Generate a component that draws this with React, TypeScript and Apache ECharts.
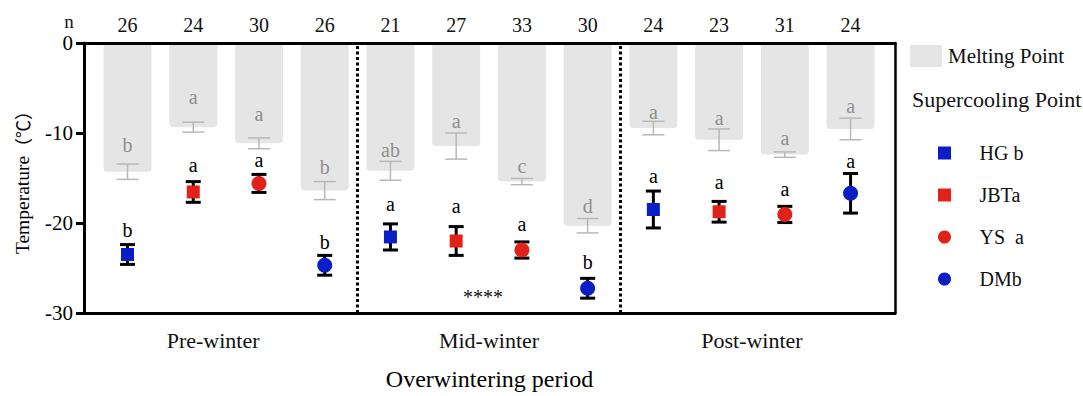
import React, { useEffect, useRef } from 'react';
import * as echarts from 'echarts';

// ---- data ----
const sampleSizes = [26, 24, 30, 26, 21, 27, 33, 30, 24, 23, 31, 24];
const periods = ['Pre-winter', 'Mid-winter', 'Post-winter'];
const species = ['HG', 'JBT', 'YS', 'DM'];
const speciesLegendText = ['HG b', 'JBTa', 'YS  a', 'DMb'];

// melting point (category order: period x species)
const meltMean = [-14.3, -9.35, -11.15, -16.4, -14.2, -11.45, -15.4, -20.3, -9.45, -10.75, -12.4, -9.55];
const meltSd = [0.85, 0.55, 0.6, 1.0, 1.05, 1.45, 0.35, 0.8, 0.75, 1.2, 0.3, 1.2];
const meltLetters = ['b', 'a', 'a', 'b', 'ab', 'a', 'c', 'd', 'a', 'a', 'a', 'a'];

// supercooling point per species (pre, mid, post)
const hgMean = [-23.5, -21.55, -18.5];
const hgSd = [1.1, 1.45, 2.05];
const jbtMean = [-16.55, -22.0, -18.75];
const jbtSd = [1.15, 1.6, 1.15];
const ysMean = [-15.6, -23.0, -19.05];
const ysSd = [1.0, 0.9, 0.9];
const dmMean = [-24.7, -27.25, -16.7];
const dmSd = [1.1, 1.1, 2.2];
const scpLetters = ['b', 'a', 'a', 'b', 'a', 'a', 'a', 'b', 'a', 'a', 'a', 'a'];

const yTicks = [0, -10, -20, -30];
const significance = '****';

// ---- styles ----
const SERIF = "'Liberation Serif', 'Times New Roman', serif";
const CJK = "'Noto Sans CJK SC', 'Liberation Serif', serif";
const BLUE = '#0a1dc6';
const RED = '#e0221b';

export default function App() {
  const ref = useRef<HTMLDivElement>(null);

  useEffect(() => {
    const chart = echarts.init(ref.current!, null, { renderer: 'svg' });

    const scpMeans = [hgMean, jbtMean, ysMean, dmMean];
    const scpSds = [hgSd, jbtSd, ysSd, dmSd];
    const symbols = ['rect', 'rect', 'circle', 'circle'];
    const legendIcons = ['path://M0,0H10V10H0Z', 'path://M0,0H10V10H0Z', 'circle', 'circle'];
    const sizes = [13, 13, 15, 15];
    const colors = [BLUE, RED, RED, BLUE];

    const meltGap = [19, 25, 24, 15, 11, 12, 12, 13, 9, 11, 14, 12];
    const scpGap = [15, 17, 14, 13, 20, 21, 18, 16, 15, 19, 17, 13];
    const groupShift = [-13, 0, 0];

    const scpErr: number[][] = [];
    for (let i = 0; i < 12; i++) {
      const g = Math.floor(i / 4);
      const s = i % 4;
      const m = scpMeans[s][g];
      const sd = scpSds[s][g];
      scpErr.push([i, m - sd, m + sd]);
    }
    const meltErr = meltMean.map((m, i) => [i, m - meltSd[i], m + meltSd[i]]);

    const textStyle = (text: string, fill: string, fontSize: number) => ({
      text,
      fill,
      fontSize,
      fontFamily: SERIF,
      align: 'center',
      verticalAlign: 'middle',
      textAlign: 'center',
      textVerticalAlign: 'middle',
    });

    const errRender = (color: string, lw: number, half: number, letters: string[], gaps: number[], textColor: string) =>
      (params: any, api: any) => {
        const x = api.value(0);
        const lo = api.value(1);
        const hi = api.value(2);
        const t = api.coord([x, hi]);
        const b = api.coord([x, lo]);
        const ls = { stroke: color, lineWidth: lw };
        return {
          type: 'group',
          children: [
            { type: 'line', shape: { x1: t[0], y1: t[1], x2: b[0], y2: b[1] }, style: ls },
            { type: 'line', shape: { x1: t[0] - half, y1: t[1], x2: t[0] + half, y2: t[1] }, style: ls },
            { type: 'line', shape: { x1: b[0] - half, y1: b[1], x2: b[0] + half, y2: b[1] }, style: ls },
            {
              type: 'text',
              x: t[0],
              y: t[1] - gaps[params.dataIndex],
              style: textStyle(letters[params.dataIndex], textColor, 20),
            },
          ],
        };
      };

    const scatterSeries = species.map((name, s) => ({
      name,
      type: 'scatter',
      symbol: symbols[s],
      symbolSize: sizes[s],
      itemStyle: { color: colors[s], opacity: 1 },
      z: 5,
      data: periods.map((_, g) => [g * 4 + s, scpMeans[s][g]]),
    }));

    const option: any = {
      animation: false,
      grid: { left: 84, right: 188, top: 43, bottom: 80 },
      xAxis: [
        {
          type: 'value',
          min: -0.662,
          max: 11.676,
          position: 'bottom',
          z: 10,
          axisLine: { show: true, onZero: false, lineStyle: { color: '#000', width: 3 } },
          axisTick: { show: false },
          axisLabel: { show: false },
          splitLine: { show: false },
          name: 'Overwintering period',
          nameLocation: 'middle',
          nameGap: 54,
          nameTextStyle: { fontFamily: SERIF, fontSize: 24, color: '#000' },
        },
        {
          type: 'value',
          min: -0.662,
          max: 11.676,
          position: 'top',
          z: 10,
          axisLine: { show: true, onZero: false, lineStyle: { color: '#000', width: 3 } },
          axisTick: { show: false },
          axisLabel: { show: false },
          splitLine: { show: false },
        },
      ],
      yAxis: [
        {
          type: 'value',
          min: yTicks[yTicks.length - 1],
          max: yTicks[0],
          interval: 10,
          position: 'left',
          z: 10,
          axisLine: { show: true, onZero: false, lineStyle: { color: '#000', width: 3 } },
          axisTick: { show: true, length: 8, lineStyle: { color: '#000', width: 3 } },
          axisLabel: { fontFamily: SERIF, fontSize: 21, color: '#000', margin: 11, lineHeight: 16 },
          splitLine: { show: false },
          name: '{t|Temperature}{c|（℃）}',
          nameLocation: 'middle',
          nameGap: 52,
          nameTextStyle: {
            fontFamily: SERIF,
            fontSize: 19.5,
            color: '#000',
            rich: {
              t: { fontFamily: SERIF, fontSize: 19.5, color: '#000' },
              c: { fontFamily: CJK, fontSize: 18, color: '#000' },
            },
          },
        },
        {
          type: 'value',
          min: yTicks[yTicks.length - 1],
          max: yTicks[0],
          interval: 10,
          position: 'right',
          z: 10,
          axisLine: { show: true, onZero: false, lineStyle: { color: '#000', width: 2.5 } },
          axisTick: { show: false },
          axisLabel: { show: false },
          splitLine: { show: false },
        },
      ],
      legend: [
        {
          data: [{ name: 'Melting Point', icon: 'rect' }],
          left: 905,
          top: 40,
          itemWidth: 32,
          itemHeight: 22,
          selectedMode: false,
          textStyle: { fontFamily: SERIF, fontSize: 21, color: '#111', padding: [0, 0, 0, 1] },
        },
        {
          data: species.map((name, s) => ({ name, icon: legendIcons[s] })),
          orient: 'vertical',
          left: 933,
          top: 138,
          itemWidth: 40,
          itemHeight: 13,
          itemGap: 22,
          selectedMode: false,
          formatter: (name: string) => speciesLegendText[species.indexOf(name)],
          textStyle: { fontFamily: SERIF, fontSize: 20, lineHeight: 20, color: '#111', padding: [0, 0, 0, 10] },
        },
      ],
      graphic: [
        {
          type: 'text',
          left: 912,
          top: 88,
          style: { text: 'Supercooling Point', fontFamily: SERIF, fontSize: 22, fill: '#111' },
        },
        {
          type: 'text',
          x: 69,
          y: 21,
          style: { ...textStyle('n', '#111', 19), lineHeight: 12 },
        },
        {
          type: 'text',
          left: 463,
          top: 287,
          style: { text: significance, fontFamily: SERIF, fontSize: 20, fill: '#111' },
        },
      ],
      series: [
        {
          name: 'Melting Point',
          type: 'bar',
          barWidth: 48,
          itemStyle: { color: '#e5e5e5', borderRadius: 4 },
          z: 2,
          data: meltMean.map((v, i) => [i, v]),
          markLine: {
            silent: true,
            symbol: 'none',
            label: { show: false },
            lineStyle: { color: '#000', width: 3, type: [3, 2.5] },
            data: [{ xAxis: 3.5 }, { xAxis: 7.5 }],
          },
        },
        {
          name: 'meltErr',
          type: 'custom',
          z: 3,
          renderItem: errRender('#b8b8b8', 1.5, 11, meltLetters, meltGap, '#8f8f8f'),
          data: meltErr,
        },
        {
          name: 'scpErr',
          type: 'custom',
          z: 4,
          renderItem: errRender('#000', 3, 7.5, scpLetters, scpGap, '#000'),
          data: scpErr,
        },
        ...scatterSeries,
        {
          name: 'nLabels',
          type: 'custom',
          z: 6,
          renderItem: (params: any, api: any) => {
            const p = api.coord([api.value(0), api.value(1)]);
            return {
              type: 'text',
              x: p[0],
              y: p[1] - 18,
              style: textStyle(String(sampleSizes[params.dataIndex]), '#111', 20),
            };
          },
          data: sampleSizes.map((_, i) => [i, 0]),
        },
        {
          name: 'periodLabels',
          type: 'custom',
          z: 6,
          renderItem: (params: any, api: any) => {
            const p = api.coord([api.value(0), api.value(1)]);
            return {
              type: 'text',
              x: p[0] + groupShift[params.dataIndex],
              y: p[1] + 27,
              style: textStyle(periods[params.dataIndex], '#111', 22),
            };
          },
          data: periods.map((_, g) => [g * 4 + 1.5, yTicks[yTicks.length - 1]]),
        },
      ],
    };

    chart.setOption(option);
    return () => chart.dispose();
  }, []);

  return <div ref={ref} style={{ position: 'fixed', left: 0, top: 0, width: 1083, height: 396, background: '#fff' }} />;
}
